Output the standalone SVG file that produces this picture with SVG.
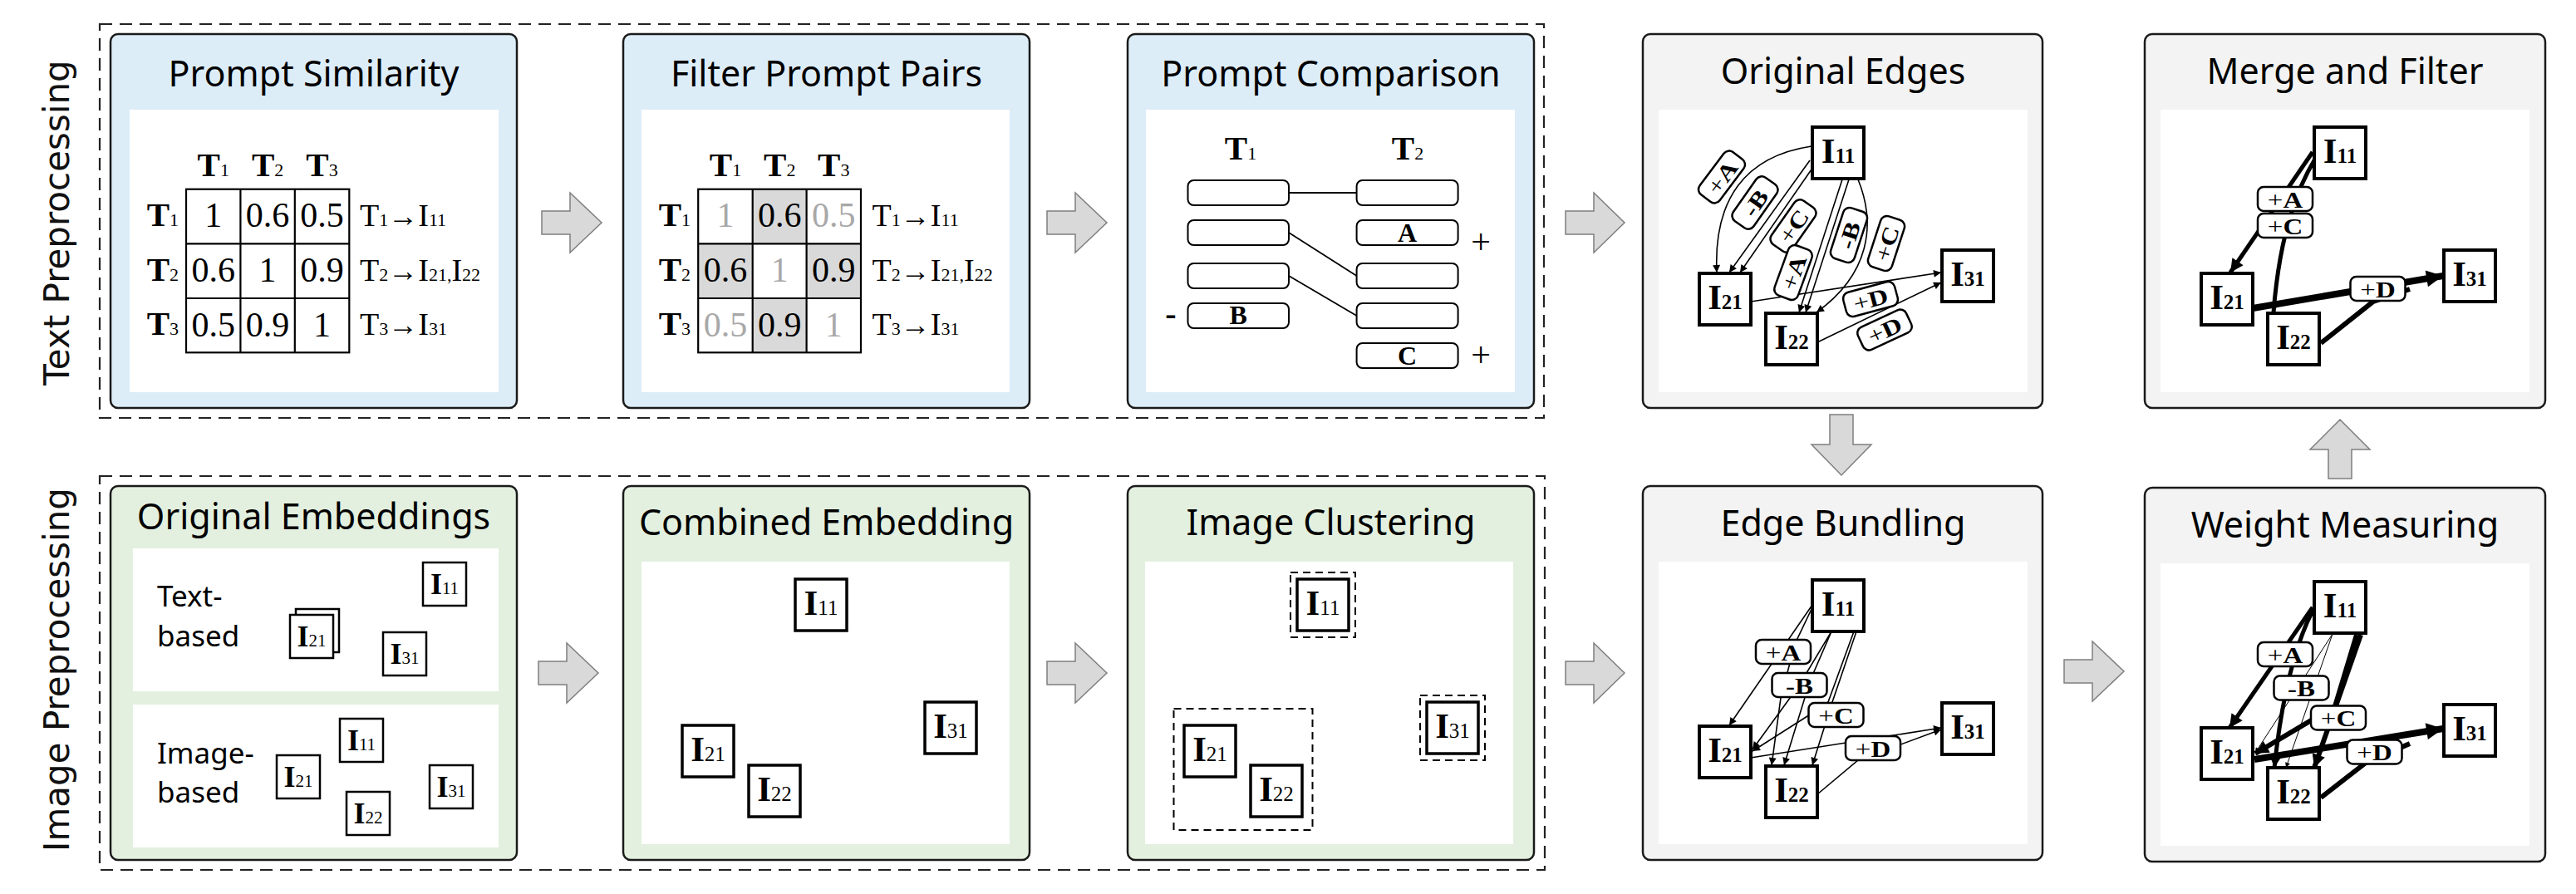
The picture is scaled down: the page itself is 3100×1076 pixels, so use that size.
<svg xmlns="http://www.w3.org/2000/svg" width="3100" height="1076" viewBox="0 0 3100 1076">
<defs>
<style>
.dash{fill:none;stroke:#222;stroke-width:2.2;stroke-dasharray:15 9}
.pb{fill:#ddedf8;stroke:#1a1a1a;stroke-width:2.5}
.pg{fill:#e3f0df;stroke:#1a1a1a;stroke-width:2.5}
.pr{fill:#f3f3f3;stroke:#1a1a1a;stroke-width:2.5}
.inner{fill:#fff}
.title{font-family:"Noto Sans",sans-serif;font-size:43px;text-anchor:middle;fill:#000}
.side{font-family:"DejaVu Sans",sans-serif;font-size:42px;text-anchor:middle;fill:#111}
.sub{font-family:"Noto Sans",sans-serif;font-size:35px;fill:#000}
.m{font-family:"Liberation Serif",serif;fill:#000}
.b{font-weight:bold}
.arrow{fill:#d9d9d9;stroke:#7f7f7f;stroke-width:1.5}
.grid{fill:none;stroke:#000;stroke-width:2.2}
.shade{fill:#d9d9d9}
.cell{font-size:42px;text-anchor:middle}
.gry{fill:#a8a8a8}
.hd{font-size:41px;text-anchor:middle}
.rh{font-size:41px;text-anchor:end}
.rl{font-size:38px}
.s{font-size:22px;font-weight:normal}
.ar{font-size:36px}
.pbox{fill:#fff;stroke:#000;stroke-width:2}
.node{fill:#fff;stroke:#000;stroke-width:4}
.snode{fill:#fff;stroke:#000;stroke-width:2.5}
.cnode{fill:#fff;stroke:#000;stroke-width:3.5}
.nt{font-size:43px;font-weight:bold;text-anchor:middle}
.nts{font-size:25px}
.st{font-size:36px;font-weight:bold;text-anchor:middle}
.sts{font-size:21px;font-weight:normal}
.ct{font-size:43px;font-weight:bold;text-anchor:middle}
.cts{font-size:25px;font-weight:normal}
.cl{fill:none;stroke:#000;stroke-width:2;stroke-dasharray:9 6}
.e{fill:none;stroke:#000;stroke-width:1.6}
.w1{stroke-width:1}
.w5{stroke-width:5}
.w6{stroke-width:6}
.w8{stroke-width:8}
.lab{fill:#fff;stroke:#000;stroke-width:2.5}
.lt{font-size:27px;text-anchor:middle}
.ln{fill:none;stroke:#000;stroke-width:1.8}
</style>
<marker id="ah" viewBox="0 0 10 10" refX="10" refY="5" markerWidth="13" markerHeight="9" markerUnits="userSpaceOnUse" orient="auto"><path d="M0,0 L10,5 L0,10 z"/></marker>
<marker id="ahS" viewBox="0 0 10 10" refX="10" refY="5" markerWidth="9" markerHeight="6" markerUnits="userSpaceOnUse" orient="auto"><path d="M0,0 L10,5 L0,10 z"/></marker>
<marker id="ahB" viewBox="0 0 10 10" refX="10" refY="5" markerWidth="18" markerHeight="16" markerUnits="userSpaceOnUse" orient="auto"><path d="M0,0 L10,5 L0,10 z"/></marker>
<marker id="ahXL" viewBox="0 0 10 10" refX="10" refY="5" markerWidth="22" markerHeight="20" markerUnits="userSpaceOnUse" orient="auto"><path d="M0,0 L10,5 L0,10 z"/></marker>
</defs>
<rect width="3100" height="1076" fill="#fff"/>

<g id="sections">
<rect class="dash" x="120" y="29" width="1738" height="474"/>
<rect class="dash" x="120" y="573" width="1739" height="474"/>
<text class="side" transform="translate(83,268) rotate(-90)">Text Preprocessing</text>
<text class="side" transform="translate(83,806) rotate(-90)">Image Preprocessing</text>
</g>

<g id="connectors">
<polygon class="arrow" points="652,254 686,254 686,232 724,268 686,304 686,282 652,282"/>
<polygon class="arrow" points="1260,254 1294,254 1294,232 1332,268 1294,304 1294,282 1260,282"/>
<polygon class="arrow" points="1884,254 1918,254 1918,232 1955,268 1918,304 1918,282 1884,282"/>
<polygon class="arrow" points="648,796 682,796 682,774 720,810 682,846 682,824 648,824"/>
<polygon class="arrow" points="1260,796 1294,796 1294,774 1332,810 1294,846 1294,824 1260,824"/>
<polygon class="arrow" points="1884,796 1918,796 1918,774 1955,810 1918,846 1918,824 1884,824"/>
<polygon class="arrow" points="2484,794 2518,794 2518,772 2556,808 2518,844 2518,822 2484,822"/>
<polygon class="arrow" points="2202,499 2230,499 2230,535 2252,535 2216,572 2180,535 2202,535"/>
<polygon class="arrow" points="2802,576 2830,576 2830,541 2852,541 2816,505 2780,541 2802,541"/>
</g>

<g id="prompt-similarity">
<rect class="pb" x="133" y="41" width="489" height="450" rx="9"/>
<rect class="inner" x="156" y="132" width="444" height="340"/>
<text class="title" x="377.5" y="104">Prompt Similarity</text>
<text class="m hd" x="256.7" y="212"><tspan class="b">T</tspan><tspan class="s">1</tspan></text>
<text class="m hd" x="322.1" y="212"><tspan class="b">T</tspan><tspan class="s">2</tspan></text>
<text class="m hd" x="387.5" y="212"><tspan class="b">T</tspan><tspan class="s">3</tspan></text>
<text class="m rh" x="215" y="272"><tspan class="b">T</tspan><tspan class="s">1</tspan></text>
<text class="m rh" x="215" y="338"><tspan class="b">T</tspan><tspan class="s">2</tspan></text>
<text class="m rh" x="215" y="403"><tspan class="b">T</tspan><tspan class="s">3</tspan></text>
<rect class="grid" x="224" y="227.7" width="196.3" height="196.6"/>
<path class="grid" d="M289.4,227.7V424.3M354.8,227.7V424.3M224,293.3H420.3M224,359H420.3"/>
<text class="m cell" x="256.7" y="273">1</text>
<text class="m cell" x="322.1" y="273">0.6</text>
<text class="m cell" x="387.5" y="273">0.5</text>
<text class="m cell" x="256.7" y="339">0.6</text>
<text class="m cell" x="322.1" y="339">1</text>
<text class="m cell" x="387.5" y="339">0.9</text>
<text class="m cell" x="256.7" y="405">0.5</text>
<text class="m cell" x="322.1" y="405">0.9</text>
<text class="m cell" x="387.5" y="405">1</text>
<text class="m rl" x="433" y="272">T<tspan class="s">1</tspan><tspan class="ar">→</tspan>I<tspan class="s">11</tspan></text>
<text class="m rl" x="433" y="338">T<tspan class="s">2</tspan><tspan class="ar">→</tspan>I<tspan class="s">21</tspan><tspan class="s">,</tspan>I<tspan class="s">22</tspan></text>
<text class="m rl" x="433" y="403">T<tspan class="s">3</tspan><tspan class="ar">→</tspan>I<tspan class="s">31</tspan></text>
</g>

<g id="filter-prompt-pairs">
<rect class="pb" x="750" y="41" width="489" height="450" rx="9"/>
<rect class="inner" x="772" y="132" width="443" height="340"/>
<text class="title" x="994.5" y="104">Filter Prompt Pairs</text>
<rect class="shade" x="905.7" y="227.7" width="64.9" height="65.6"/>
<rect class="shade" x="840.2" y="293.3" width="65.5" height="65.7"/>
<rect class="shade" x="970.6" y="293.3" width="65.4" height="65.7"/>
<rect class="shade" x="905.7" y="359" width="64.9" height="65.3"/>
<text class="m hd" x="873" y="212"><tspan class="b">T</tspan><tspan class="s">1</tspan></text>
<text class="m hd" x="938.2" y="212"><tspan class="b">T</tspan><tspan class="s">2</tspan></text>
<text class="m hd" x="1003.3" y="212"><tspan class="b">T</tspan><tspan class="s">3</tspan></text>
<text class="m rh" x="831" y="272"><tspan class="b">T</tspan><tspan class="s">1</tspan></text>
<text class="m rh" x="831" y="338"><tspan class="b">T</tspan><tspan class="s">2</tspan></text>
<text class="m rh" x="831" y="403"><tspan class="b">T</tspan><tspan class="s">3</tspan></text>
<rect class="grid" x="840.2" y="227.7" width="195.8" height="196.6"/>
<path class="grid" d="M905.7,227.7V424.3M970.6,227.7V424.3M840.2,293.3H1036M840.2,359H1036"/>
<text class="m cell gry" x="873" y="273">1</text>
<text class="m cell" x="938.2" y="273">0.6</text>
<text class="m cell gry" x="1003.3" y="273">0.5</text>
<text class="m cell" x="873" y="339">0.6</text>
<text class="m cell gry" x="938.2" y="339">1</text>
<text class="m cell" x="1003.3" y="339">0.9</text>
<text class="m cell gry" x="873" y="405">0.5</text>
<text class="m cell" x="938.2" y="405">0.9</text>
<text class="m cell gry" x="1003.3" y="405">1</text>
<text class="m rl" x="1049.6" y="272">T<tspan class="s">1</tspan><tspan class="ar">→</tspan>I<tspan class="s">11</tspan></text>
<text class="m rl" x="1049.6" y="338">T<tspan class="s">2</tspan><tspan class="ar">→</tspan>I<tspan class="s">21</tspan><tspan class="s">,</tspan>I<tspan class="s">22</tspan></text>
<text class="m rl" x="1049.6" y="403">T<tspan class="s">3</tspan><tspan class="ar">→</tspan>I<tspan class="s">31</tspan></text>
</g>

<g id="prompt-comparison">
<rect class="pb" x="1357" y="41" width="489" height="450" rx="9"/>
<rect class="inner" x="1379" y="132" width="444" height="340"/>
<text class="title" x="1601.5" y="104">Prompt Comparison</text>
<text class="m hd" x="1493" y="192"><tspan class="b">T</tspan><tspan class="s">1</tspan></text>
<text class="m hd" x="1694" y="192"><tspan class="b">T</tspan><tspan class="s">2</tspan></text>
<path class="ln" d="M1551,232H1632.6M1551,280L1632.6,332M1551,332L1632.6,380"/>
<rect class="pbox" x="1429.5" y="217" width="121.5" height="30" rx="7"/>
<rect class="pbox" x="1429.5" y="265" width="121.5" height="30" rx="7"/>
<rect class="pbox" x="1429.5" y="317" width="121.5" height="30" rx="7"/>
<rect class="pbox" x="1429.5" y="365" width="121.5" height="30" rx="7"/>
<rect class="pbox" x="1632.6" y="217" width="122" height="30" rx="7"/>
<rect class="pbox" x="1632.6" y="265" width="122" height="30" rx="7"/>
<rect class="pbox" x="1632.6" y="317" width="122" height="30" rx="7"/>
<rect class="pbox" x="1632.6" y="365" width="122" height="30" rx="7"/>
<rect class="pbox" x="1632.6" y="413" width="122" height="30" rx="7"/>
<text class="m b" x="1693.6" y="291" font-size="32" text-anchor="middle">A</text>
<text class="m b" x="1490.2" y="390" font-size="32" text-anchor="middle">B</text>
<text class="m b" x="1693.6" y="439" font-size="32" text-anchor="middle">C</text>
<text class="m" x="1782" y="305" font-size="42" text-anchor="middle">+</text>
<text class="m" x="1782" y="441" font-size="42" text-anchor="middle">+</text>
<text class="m b" x="1409" y="391" font-size="40" text-anchor="middle">-</text>
</g>

<g id="original-edges">
<rect class="pr" x="1977" y="41" width="481" height="450" rx="9"/>
<rect class="inner" x="1996" y="132" width="444" height="340"/>
<text class="title" x="2218" y="101">Original Edges</text>
<path class="e" marker-end="url(#ah)" d="M2180,176 C2100,188 2062,240 2066,328"/>
<path class="e" marker-end="url(#ah)" d="M2178,193 L2081,328"/>
<path class="e" marker-end="url(#ah)" d="M2182,201 L2094,328"/>
<path class="e" marker-end="url(#ah)" d="M2217,216 L2165,376"/>
<path class="e" marker-end="url(#ah)" d="M2225,216 L2173,376"/>
<path class="e" marker-end="url(#ah)" d="M2236,216 C2258,270 2250,330 2186,376"/>
<path class="e" marker-end="url(#ah)" d="M2107,363 L2336,328"/>
<path class="e" marker-end="url(#ah)" d="M2187,412 L2336,340"/>
<g transform="translate(2072,213) rotate(-53)"><rect class="lab" x="-32" y="-15" width="64" height="30" rx="8"/><text class="m lt" y="10" transform="scale(1.22,1)">+<tspan class="b">A</tspan></text></g>
<g transform="translate(2112,244) rotate(-55)"><rect class="lab" x="-32" y="-15" width="64" height="30" rx="8"/><text class="m lt b" y="10" transform="scale(1.22,1)">-B</text></g>
<g transform="translate(2158,272) rotate(-55)"><rect class="lab" x="-32" y="-15" width="64" height="30" rx="8"/><text class="m lt" y="10" transform="scale(1.22,1)">+<tspan class="b">C</tspan></text></g>
<g transform="translate(2158,328) rotate(-70)"><rect class="lab" x="-32" y="-15" width="64" height="30" rx="8"/><text class="m lt" y="10" transform="scale(1.22,1)">+<tspan class="b">A</tspan></text></g>
<g transform="translate(2225,283) rotate(-72)"><rect class="lab" x="-32" y="-15" width="64" height="30" rx="8"/><text class="m lt b" y="10" transform="scale(1.22,1)">-B</text></g>
<g transform="translate(2270,293) rotate(-72)"><rect class="lab" x="-32" y="-15" width="64" height="30" rx="8"/><text class="m lt" y="10" transform="scale(1.22,1)">+<tspan class="b">C</tspan></text></g>
<g transform="translate(2251,360) rotate(-15)"><rect class="lab" x="-32" y="-15" width="64" height="30" rx="8"/><text class="m lt" y="10" transform="scale(1.22,1)">+<tspan class="b">D</tspan></text></g>
<g transform="translate(2268,397) rotate(-25)"><rect class="lab" x="-32" y="-15" width="64" height="30" rx="8"/><text class="m lt" y="10" transform="scale(1.22,1)">+<tspan class="b">D</tspan></text></g>
<rect class="node" x="2181" y="153" width="62" height="62"/><text class="m nt" x="2212" y="196">I<tspan class="nts">11</tspan></text>
<rect class="node" x="2045" y="329" width="62" height="62"/><text class="m nt" x="2076" y="372">I<tspan class="nts">21</tspan></text>
<rect class="node" x="2125" y="377" width="62" height="62"/><text class="m nt" x="2156" y="420">I<tspan class="nts">22</tspan></text>
<rect class="node" x="2337" y="301" width="62" height="62"/><text class="m nt" x="2368" y="344">I<tspan class="nts">31</tspan></text>
</g>

<g id="merge-and-filter">
<rect class="pr" x="2581" y="41" width="482" height="450" rx="9"/>
<rect class="inner" x="2600" y="132" width="444" height="340"/>
<text class="title" x="2822" y="101">Merge and Filter</text>
<path class="e w5" marker-end="url(#ahB)" d="M2783,183 L2684,328"/>
<path class="e w5" marker-end="url(#ah)" d="M2785,193 Q2745,260 2736,376"/>
<path class="e w6" d="M2793,413 L2856,363 L2900,348"/>
<path class="e w8" marker-end="url(#ahXL)" d="M2711,371 L2940,332"/>
<g transform="translate(2750,239.5)"><rect class="lab" x="-33" y="-14.5" width="66" height="29" rx="7"/><text class="m lt" y="10" transform="scale(1.22,1)">+<tspan class="b">A</tspan></text></g>
<g transform="translate(2750,271.5)"><rect class="lab" x="-33" y="-14.5" width="66" height="29" rx="7"/><text class="m lt" y="10" transform="scale(1.22,1)">+<tspan class="b">C</tspan></text></g>
<g transform="translate(2861.5,347.5)"><rect class="lab" x="-33" y="-14.5" width="66" height="29" rx="7"/><text class="m lt" y="10" transform="scale(1.22,1)">+<tspan class="b">D</tspan></text></g>
<rect class="node" x="2785" y="153" width="62" height="62"/><text class="m nt" x="2816" y="196">I<tspan class="nts">11</tspan></text>
<rect class="node" x="2649" y="329" width="62" height="62"/><text class="m nt" x="2680" y="372">I<tspan class="nts">21</tspan></text>
<rect class="node" x="2729" y="377" width="62" height="62"/><text class="m nt" x="2760" y="420">I<tspan class="nts">22</tspan></text>
<rect class="node" x="2941" y="301" width="62" height="62"/><text class="m nt" x="2972" y="344">I<tspan class="nts">31</tspan></text>
</g>

<g id="original-embeddings">
<rect class="pg" x="133" y="585" width="489" height="450" rx="9"/>
<rect class="inner" x="160" y="660" width="440" height="172"/>
<rect class="inner" x="160" y="848" width="440" height="172"/>
<text class="title" x="377.5" y="637">Original Embeddings</text>
<text class="sub" x="189" y="730">Text-</text>
<text class="sub" x="189" y="778">based</text>
<text class="sub" x="189" y="919">Image-</text>
<text class="sub" x="189" y="966">based</text>
<rect class="snode" x="509" y="677" width="52" height="52"/><text class="m st" x="535" y="715">I<tspan class="sts">11</tspan></text>
<rect class="snode" x="356" y="733" width="52" height="52"/>
<rect class="snode" x="349" y="740" width="52" height="52"/><text class="m st" x="375" y="778">I<tspan class="sts">21</tspan></text>
<rect class="snode" x="461" y="761" width="52" height="52"/><text class="m st" x="487" y="799">I<tspan class="sts">31</tspan></text>
<rect class="snode" x="409" y="865" width="52" height="52"/><text class="m st" x="435" y="903">I<tspan class="sts">11</tspan></text>
<rect class="snode" x="333" y="909" width="52" height="52"/><text class="m st" x="359" y="947">I<tspan class="sts">21</tspan></text>
<rect class="snode" x="417" y="953" width="52" height="52"/><text class="m st" x="443" y="991">I<tspan class="sts">22</tspan></text>
<rect class="snode" x="517" y="921" width="52" height="52"/><text class="m st" x="543" y="959">I<tspan class="sts">31</tspan></text>
</g>

<g id="combined-embedding">
<rect class="pg" x="750" y="585" width="489" height="450" rx="9"/>
<rect class="inner" x="772" y="676" width="443" height="340"/>
<text class="title" x="994.5" y="644">Combined Embedding</text>
<rect class="cnode" x="957" y="697" width="62" height="62"/><text class="m ct" x="988" y="740">I<tspan class="cts">11</tspan></text>
<rect class="cnode" x="821" y="873" width="62" height="62"/><text class="m ct" x="852" y="916">I<tspan class="cts">21</tspan></text>
<rect class="cnode" x="901" y="921" width="62" height="62"/><text class="m ct" x="932" y="964">I<tspan class="cts">22</tspan></text>
<rect class="cnode" x="1113" y="845" width="62" height="62"/><text class="m ct" x="1144" y="888">I<tspan class="cts">31</tspan></text>
</g>

<g id="image-clustering">
<rect class="pg" x="1357" y="585" width="489" height="450" rx="9"/>
<rect class="inner" x="1378" y="676" width="443" height="340"/>
<text class="title" x="1601.5" y="644">Image Clustering</text>
<rect class="cl" x="1553" y="689" width="78" height="78"/>
<rect class="cl" x="1412.5" y="853" width="167" height="146"/>
<rect class="cl" x="1709" y="837" width="78" height="78"/>
<rect class="cnode" x="1561" y="697" width="62" height="62"/><text class="m ct" x="1592" y="740">I<tspan class="cts">11</tspan></text>
<rect class="cnode" x="1425" y="873" width="62" height="62"/><text class="m ct" x="1456" y="916">I<tspan class="cts">21</tspan></text>
<rect class="cnode" x="1505" y="921" width="62" height="62"/><text class="m ct" x="1536" y="964">I<tspan class="cts">22</tspan></text>
<rect class="cnode" x="1717" y="845" width="62" height="62"/><text class="m ct" x="1748" y="888">I<tspan class="cts">31</tspan></text>
</g>

<g id="edge-bundling">
<rect class="pr" x="1977" y="585" width="481" height="450" rx="9"/>
<rect class="inner" x="1996" y="676" width="444" height="340"/>
<text class="title" x="2218" y="645">Edge Bundling</text>
<path class="e" marker-end="url(#ah)" d="M2181,728 L2081,873"/>
<path class="e" marker-end="url(#ah)" d="M2181,731 L2160,775 L2143,840 L2132,921"/>
<path class="e" marker-end="url(#ah)" d="M2204,760 L2165,825 L2109,902"/>
<path class="e" marker-end="url(#ah)" d="M2204,760 L2178,820 L2147,921"/>
<path class="e" marker-end="url(#ah)" d="M2234,760 L2205,845 L2181,921"/>
<path class="e" marker-end="url(#ah)" d="M2231,760 L2200,845 L2175,862 L2109,904"/>
<path class="e" marker-end="url(#ah)" d="M2107,912 L2336,876"/>
<path class="e" marker-end="url(#ah)" d="M2187,956 L2236,915 L2336,878"/>
<g transform="translate(2146,784.5)"><rect class="lab" x="-33" y="-14.5" width="66" height="29" rx="7"/><text class="m lt" y="10" transform="scale(1.22,1)">+<tspan class="b">A</tspan></text></g>
<g transform="translate(2165.5,824.5)"><rect class="lab" x="-33" y="-14.5" width="66" height="29" rx="7"/><text class="m lt b" y="10" transform="scale(1.22,1)">-B</text></g>
<g transform="translate(2209.5,860.5)"><rect class="lab" x="-33" y="-14.5" width="66" height="29" rx="7"/><text class="m lt" y="10" transform="scale(1.22,1)">+<tspan class="b">C</tspan></text></g>
<g transform="translate(2254,900.5)"><rect class="lab" x="-33" y="-14.5" width="66" height="29" rx="7"/><text class="m lt" y="10" transform="scale(1.22,1)">+<tspan class="b">D</tspan></text></g>
<rect class="node" x="2181" y="698" width="62" height="62"/><text class="m nt" x="2212" y="741">I<tspan class="nts">11</tspan></text>
<rect class="node" x="2045" y="874" width="62" height="62"/><text class="m nt" x="2076" y="917">I<tspan class="nts">21</tspan></text>
<rect class="node" x="2125" y="922" width="62" height="62"/><text class="m nt" x="2156" y="965">I<tspan class="nts">22</tspan></text>
<rect class="node" x="2337" y="846" width="62" height="62"/><text class="m nt" x="2368" y="889">I<tspan class="nts">31</tspan></text>
</g>

<g id="weight-measuring">
<rect class="pr" x="2581" y="587" width="482" height="450" rx="9"/>
<rect class="inner" x="2600" y="678" width="444" height="340"/>
<text class="title" x="2822" y="647">Weight Measuring</text>
<path class="e w5" marker-end="url(#ahB)" d="M2783,731 L2683,876"/>
<path class="e w5" marker-end="url(#ahB)" d="M2783,735 Q2750,800 2737,924"/>
<path class="e w1" marker-end="url(#ahS)" d="M2807,763 L2714,906"/>
<path class="e w1" marker-end="url(#ahS)" d="M2807,763 L2751,924"/>
<path class="e w6" marker-end="url(#ahB)" d="M2841,764 L2785,924"/>
<path class="e w6" marker-end="url(#ahB)" d="M2836,764 L2810,850 L2714,907"/>
<path class="e w6" d="M2793,960 L2847,918 L2900,895"/>
<path class="e w8" marker-end="url(#ahXL)" d="M2713,914 L2940,877"/>
<g transform="translate(2750,787.5)"><rect class="lab" x="-33" y="-14.5" width="66" height="29" rx="7"/><text class="m lt" y="10" transform="scale(1.22,1)">+<tspan class="b">A</tspan></text></g>
<g transform="translate(2769.5,828)"><rect class="lab" x="-33" y="-14.5" width="66" height="29" rx="7"/><text class="m lt b" y="10" transform="scale(1.22,1)">-B</text></g>
<g transform="translate(2814,864)"><rect class="lab" x="-33" y="-14.5" width="66" height="29" rx="7"/><text class="m lt" y="10" transform="scale(1.22,1)">+<tspan class="b">C</tspan></text></g>
<g transform="translate(2857.5,905)"><rect class="lab" x="-33" y="-14.5" width="66" height="29" rx="7"/><text class="m lt" y="10" transform="scale(1.22,1)">+<tspan class="b">D</tspan></text></g>
<rect class="node" x="2785" y="700" width="62" height="62"/><text class="m nt" x="2816" y="743">I<tspan class="nts">11</tspan></text>
<rect class="node" x="2649" y="876" width="62" height="62"/><text class="m nt" x="2680" y="919">I<tspan class="nts">21</tspan></text>
<rect class="node" x="2729" y="924" width="62" height="62"/><text class="m nt" x="2760" y="967">I<tspan class="nts">22</tspan></text>
<rect class="node" x="2941" y="848" width="62" height="62"/><text class="m nt" x="2972" y="891">I<tspan class="nts">31</tspan></text>
</g>
</svg>
